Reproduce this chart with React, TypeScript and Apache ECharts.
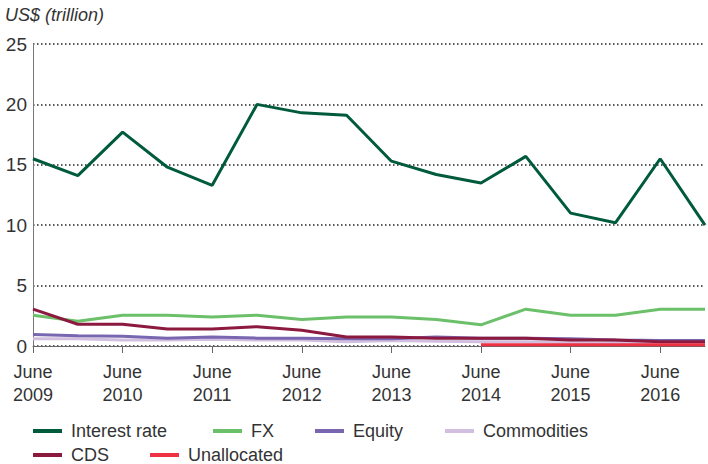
import React, { useEffect, useRef } from "react";
import * as echarts from "echarts";

const categories = [
  "June\n2009", "Dec\n2009", "June\n2010", "Dec\n2010", "June\n2011", "Dec\n2011",
  "June\n2012", "Dec\n2012", "June\n2013", "Dec\n2013", "June\n2014", "Dec\n2014",
  "June\n2015", "Dec\n2015", "June\n2016", "Dec\n2016",
];
const interestRate = [15.5, 14.1, 17.7, 14.8, 13.3, 20.0, 19.3, 19.1, 15.3, 14.2, 13.5, 15.7, 11.0, 10.2, 15.5, 10.0];
const fx = [2.55, 2.05, 2.55, 2.55, 2.4, 2.55, 2.2, 2.4, 2.4, 2.2, 1.75, 3.05, 2.55, 2.55, 3.05, 3.05];
const equity = [0.95, 0.85, 0.8, 0.65, 0.75, 0.65, 0.65, 0.6, 0.6, 0.75, 0.65, 0.65, 0.6, 0.5, 0.45, 0.45];
const commodities = [0.6, 0.6, 0.5, 0.5, 0.55, 0.5, 0.5, 0.35, 0.45, 0.4, 0.35, 0.35, 0.3, 0.25, 0.2, 0.2];
const cds = [3.05, 1.8, 1.8, 1.4, 1.4, 1.6, 1.3, 0.75, 0.75, 0.65, 0.65, 0.65, 0.5, 0.5, 0.35, 0.35];
const unallocated = [null, null, null, null, null, null, null, null, null, null, 0.1, 0.1, 0.1, 0.1, 0.1, 0.1];

const seriesDefs = [
  { name: "Interest rate", data: interestRate, color: "#005a3c" },
  { name: "FX", data: fx, color: "#6cc06a" },
  { name: "Commodities", data: commodities, color: "#d2bfe0" },
  { name: "Equity", data: equity, color: "#7866b0" },
  { name: "CDS", data: cds, color: "#8c1a3f" },
  { name: "Unallocated", data: unallocated, color: "#ee3244" },
];

const legendPos = [
  { name: "Interest rate", left: 33, top: 422 },
  { name: "FX", left: 213, top: 422 },
  { name: "Equity", left: 315, top: 422 },
  { name: "Commodities", left: 445, top: 422 },
  { name: "CDS", left: 33, top: 446 },
  { name: "Unallocated", left: 150, top: 446 },
];

export default function App() {
  const ref = useRef<HTMLDivElement>(null);
  useEffect(() => {
    if (!ref.current) return;
    const chart = echarts.init(ref.current, null, { renderer: "svg" });
    const font = "'Liberation Sans', Arial, sans-serif";
    chart.setOption({
      animation: false,
      textStyle: { fontFamily: font },
      title: {
        text: "US$ (trillion)",
        left: 5,
        top: 6,
        padding: 0,
        textStyle: { fontStyle: "italic", fontWeight: "normal", fontSize: 18, color: "#333", fontFamily: font },
      },
      legend: legendPos.map((l) => ({
        data: [l.name],
        left: l.left,
        top: l.top,
        icon: "rect",
        itemWidth: 29,
        itemHeight: 4,
        itemGap: 5,
        textStyle: { fontSize: 18, color: "#333", fontFamily: font, padding: [0, 0, 0, 4] },
        padding: 0,
      })),
      grid: { left: 33, right: 3, top: 44, bottom: 118, containLabel: false },
      xAxis: {
        type: "category",
        data: categories,
        boundaryGap: false,
        axisLine: { lineStyle: { color: "#666", width: 1 } },
        axisTick: { interval: 1, length: 7, lineStyle: { color: "#666" } },
        axisLabel: {
          interval: 1,
          fontSize: 18,
          color: "#333",
          lineHeight: 23,
          margin: 14,
          fontFamily: font,
        },
        splitLine: { show: false },
      },
      yAxis: {
        type: "value",
        min: 0,
        max: 25,
        interval: 5,
        axisLine: { show: true, lineStyle: { color: "#777", width: 1 } },
        axisTick: { show: false },
        axisLabel: { fontSize: 19, color: "#333", margin: 6, fontFamily: font },
        splitLine: { lineStyle: { color: "#222", type: [1.5, 2.5], width: 1.5 } },
      },
      series: seriesDefs.map((s) => ({
        name: s.name,
        type: "line",
        data: s.data,
        symbol: "none",
        color: s.color,
        lineStyle: { width: 3, color: s.color },
      })),
    });
    return () => chart.dispose();
  }, []);
  return <div ref={ref} style={{ width: 708, height: 464, position: "absolute", left: 0, top: 0 }} />;
}
